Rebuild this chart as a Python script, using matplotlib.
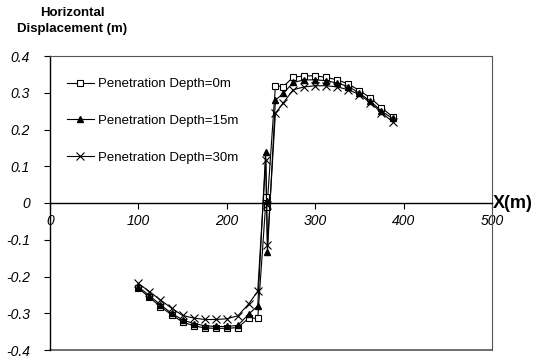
import matplotlib
matplotlib.use("Agg")
import matplotlib.pyplot as plt

plt.rcParams['font.family'] = ['Liberation Sans', 'DejaVu Sans']

# data
x_0m = [100, 112.5, 125, 137.5, 150, 162.5, 175, 187.5, 200, 212.5, 225, 235,
        244.5, 245.5,
        255, 264, 275, 287.5, 300, 312.5, 325, 337.5, 350, 362.5, 375, 387.5]
y_0m = [-0.232, -0.257, -0.282, -0.304, -0.324, -0.334, -0.340, -0.341, -0.341, -0.339, -0.313, -0.314,
        0.015, -0.012,
        0.319, 0.317, 0.342, 0.346, 0.346, 0.342, 0.335, 0.324, 0.306, 0.286, 0.259, 0.235]

x_15m = [100, 112.5, 125, 137.5, 150, 162.5, 175, 187.5, 200, 212.5, 225, 235,
         244, 245, 246,
         255, 264, 275, 287.5, 300, 312.5, 325, 337.5, 350, 362.5, 375, 387.5]
y_15m = [-0.228, -0.252, -0.277, -0.300, -0.318, -0.328, -0.334, -0.336, -0.336, -0.333, -0.302, -0.280,
         0.140, 0.005, -0.134,
         0.280, 0.298, 0.328, 0.335, 0.335, 0.333, 0.326, 0.317, 0.299, 0.277, 0.250, 0.230]

x_30m = [100, 112.5, 125, 137.5, 150, 162.5, 175, 187.5, 200, 212.5, 225, 235,
         244, 245, 246,
         255, 264, 275, 287.5, 300, 312.5, 325, 337.5, 350, 362.5, 375, 387.5]
y_30m = [-0.219, -0.241, -0.264, -0.286, -0.306, -0.313, -0.317, -0.317, -0.315, -0.307, -0.274, -0.240,
         0.116, -0.005, -0.113,
         0.244, 0.273, 0.308, 0.316, 0.319, 0.319, 0.316, 0.308, 0.295, 0.273, 0.246, 0.221]

labels = ['Penetration Depth=0m', 'Penetration Depth=15m', 'Penetration Depth=30m']
xticks = [0, 100, 200, 300, 400, 500]
yticks = [-0.4, -0.3, -0.2, -0.1, 0, 0.1, 0.2, 0.3, 0.4]
yticklabels = ['-0.4', '-0.3', '-0.2', '-0.1', '0', '0.1', '0.2', '0.3', '0.4']

fig = plt.figure(figsize=(5.39, 3.62), dpi=100)
ax = fig.add_axes([50/539, 12/362, 442/539, 294/362])

ax.plot(x_0m, y_0m, color='k', lw=0.8, marker='s', ms=5, mfc='white', mec='k', mew=0.8, label=labels[0])
ax.plot(x_15m, y_15m, color='k', lw=0.8, marker='^', ms=4, mfc='k', mec='k', label=labels[1])
ax.plot(x_30m, y_30m, color='k', lw=0.8, marker='x', ms=6, mew=0.8, label=labels[2])

ax.set_xlim(0, 500)
ax.set_ylim(-0.4, 0.4)

# axes crossing at zero, plus a plain frame around the plot
ax.spines['bottom'].set_position(('data', 0))
for s in ['left', 'bottom']:
    ax.spines[s].set_linewidth(1.0)
for s in ['top', 'right']:
    ax.spines[s].set_linewidth(0.8)
    ax.spines[s].set_color('#555555')
ax.axhline(-0.4, color='#555555', lw=1.2, clip_on=False)

ax.set_xticks(xticks)
ax.set_xticklabels([str(t) for t in xticks], fontstyle='italic', fontsize=10)
ax.set_yticks(yticks)
ax.set_yticklabels(yticklabels, fontstyle='italic', fontsize=10)
ax.tick_params(axis='x', direction='out', length=4, pad=4)
ax.tick_params(axis='y', direction='out', length=4, pad=10.5)

fig.text(72/539, 1 - 21/362, 'Horizontal\nDisplacement (m)', ha='center', va='center',
         fontsize=9.5, fontweight='bold', linespacing=1.35)
ax.text(1.003, 0.5, 'X(m)', transform=ax.transAxes, ha='left', va='center',
        fontsize=13, fontweight='bold')

ax.legend(loc='upper left', bbox_to_anchor=(0.012, 0.965), frameon=False, fontsize=9.5,
          labelspacing=1.85, handlelength=2.0, handletextpad=0.3)

fig.savefig('out.png', dpi=100)
